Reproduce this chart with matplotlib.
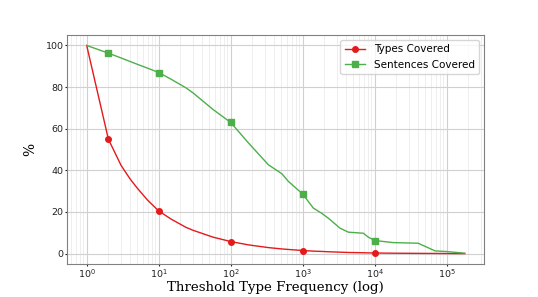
import matplotlib
matplotlib.use("Agg")
import matplotlib.pyplot as plt

# threshold values (type frequency)
thresholds = [1, 2, 3, 4, 5, 7, 10, 15, 24, 30, 57, 100, 176, 333, 512, 632,
              1000, 1400, 1830, 2270, 3300, 4300, 6950, 8150, 10000,
              18000, 40000, 69000, 100000, 178000]
types_covered = [100, 55, 42.4, 35.9, 31.6, 25.7, 20.5, 16.5, 12.6, 11.2, 7.9, 5.8,
                 4.2, 2.9, 2.25, 2.0, 1.5, 1.2, 1.05, 0.9, 0.7, 0.55, 0.42, 0.36, 0.3,
                 0.2, 0.12, 0.08, 0.05, 0.0]
sentences_covered = [100, 96.3, 94.0, 92.3, 91.0, 89.1, 87, 83.7, 79.6, 77.2, 69.2, 63,
                     53.2, 42.7, 38.4, 34.7, 28.6, 21.9, 19.4, 17, 12.2, 10.3, 9.8, 7.9, 6.3,
                     5.3, 5.0, 1.3, 1.0, 0.2]
marker_at = [1, 6, 11, 16, 24]

fig, ax = plt.subplots(figsize=(5.38, 2.97), dpi=100)
fig.subplots_adjust(left=0.125, right=0.9, top=0.882, bottom=0.111)

ax.plot(thresholds, types_covered, color="#e41a1c", lw=1.0, marker="o", ms=4,
        markevery=marker_at, label="Types Covered")
ax.plot(thresholds, sentences_covered, color="#4daf4a", lw=1.0, marker="s", ms=4,
        markevery=marker_at, label="Sentences Covered")

ax.set_xscale("log")
ax.set_xlim(10 ** -0.27, 10 ** 5.52)
ax.set_ylim(-5, 105)
ax.grid(True, which="major", color="#d0d0d0", lw=0.8)
ax.grid(True, which="minor", color="#ebebeb", lw=0.6)
ax.set_axisbelow(True)
for s in ax.spines.values():
    s.set_color("#808080")
ax.tick_params(labelsize=6.8, colors="#222222", length=1.5, pad=1)
ax.tick_params(which="minor", length=0)

ax.set_xlabel("Threshold Type Frequency (log)", family="DejaVu Serif", fontsize=9.6)
ax.xaxis.set_label_coords(0.5, -0.072)
ax.set_ylabel("%", family="DejaVu Serif", fontsize=10)
ax.yaxis.set_label_coords(-0.073, 0.5)
ax.legend(loc="upper right", fontsize=7.5, framealpha=0.8)

fig.savefig("out.png")
